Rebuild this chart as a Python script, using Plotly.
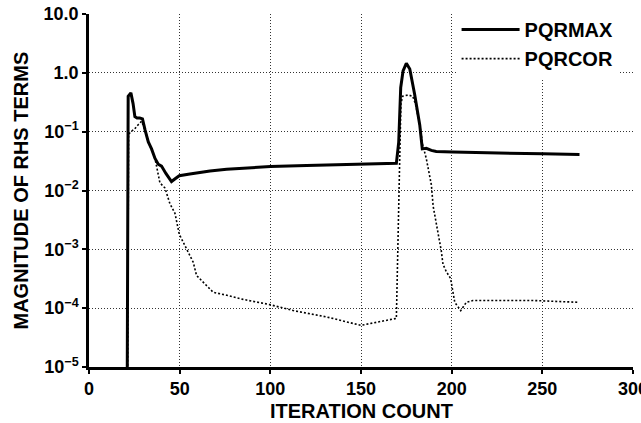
import plotly.graph_objects as go

# PQRMAX (solid)
pqrmax_x = [21.0, 21.3, 21.6, 23.1, 24.3, 25.3, 26.5, 28.0, 29.5, 30.9, 32.7, 34.5, 36.4,
            38.2, 40.0, 42.4, 45.5, 47.5, 49.8, 55.6, 66.7, 75.9, 100.0, 120.0, 149.3,
            169.5, 170.8, 171.9, 173.2, 175.0, 176.9, 179.6, 182.4, 183.8, 186.0, 188.8,
            191.5, 200.7, 250.3, 270.5]
pqrmax_y = [1e-6, 0.30, 0.40, 0.456, 0.30, 0.18, 0.17, 0.17, 0.165, 0.107, 0.067, 0.051, 0.035,
            0.028, 0.026, 0.0195, 0.0142, 0.0158, 0.0178, 0.019, 0.0215, 0.023, 0.0255, 0.0265, 0.028,
            0.029, 0.066, 0.56, 1.08, 1.45, 1.16, 0.43, 0.13, 0.051, 0.052, 0.048,
            0.046, 0.045, 0.042, 0.041]

# PQRCOR (dotted)
pqrcor_x = [21.2, 21.8, 23.0, 25.0, 27.0, 29.0, 30.9, 32.7, 34.5, 36.4, 39.1, 41.9, 44.6,
            47.4, 49.8, 52.9, 57.5, 59.3, 63.0, 68.5, 75.9, 85.0, 99.7, 112.6, 131.0,
            149.9, 169.5, 170.3, 171.0, 172.0, 173.0, 176.0, 178.5, 180.0, 182.4, 184.0,
            186.0, 188.8, 189.8, 191.5, 192.9, 194.3, 195.2, 197.0, 199.4, 200.7, 201.7,
            205.0, 208.1, 211.7, 219.0, 245.0, 269.6]
pqrcor_y = [1e-6, 0.09, 0.10, 0.11, 0.13, 0.15, 0.107, 0.067, 0.05, 0.035, 0.0135, 0.011, 0.006,
            0.0041, 0.0018, 0.00115, 0.0006, 0.00036, 0.00028, 0.000186, 0.000166, 0.000141,
            0.000115, 0.000091, 0.000071, 0.000051, 0.000067, 0.0015, 0.03, 0.3, 0.4, 0.42,
            0.40, 0.30, 0.13, 0.06, 0.035, 0.0125, 0.0054, 0.0028, 0.0014, 0.00093, 0.00056,
            0.00042, 0.00032, 0.000174, 0.000126, 0.000091, 0.000126, 0.000135, 0.000135,
            0.000135, 0.000126]

x_ticks = [0, 50, 100, 150, 200, 250, 300]
x_ticktext = ["0", "50", "100", "150", "200", "250", "300"]
y_ticks = [1e-5, 1e-4, 1e-3, 1e-2, 1e-1, 1, 10]
y_ticktext = ["10<sup>−5</sup>", "10<sup>−4</sup>", "10<sup>−3</sup>", "10<sup>−2</sup>",
              "10<sup>−1</sup>", "1.0", "10.0"]

FONT = "Liberation Sans, Arial, sans-serif"

fig = go.Figure()
fig.add_trace(go.Scatter(x=pqrmax_x, y=pqrmax_y, mode="lines", name="<b>PQRMAX</b>",
                         line=dict(color="black", width=3)))
fig.add_trace(go.Scatter(x=pqrcor_x, y=pqrcor_y, mode="lines", name="<b>PQRCOR</b>",
                         line=dict(color="black", width=1.6, dash="2px,2px")))

axis_common = dict(showline=True, linecolor="black", linewidth=2.5, ticks="outside",
                   ticklen=4, tickwidth=1.5, tickcolor="black", showgrid=True,
                   gridcolor="#333333", gridwidth=1, griddash="1px,2px", zeroline=False,
                   automargin=False, ticklabeloverflow="allow",
                   tickfont=dict(family=FONT, size=18, color="black"))

fig.update_xaxes(range=[0, 300], tickvals=x_ticks,
                 ticktext=["<b>%s</b>" % t for t in x_ticktext], **axis_common)
fig.update_yaxes(type="log", range=[-5, 1], tickvals=y_ticks,
                 ticktext=["<b>%s</b>" % t for t in y_ticktext], **axis_common)

fig.update_layout(
    width=641, height=423,
    margin=dict(l=89, r=8, t=14, b=56, autoexpand=False),
    paper_bgcolor="white", plot_bgcolor="white",
    font=dict(family=FONT, size=18, color="black"),
    showlegend=True,
    legend=dict(x=0.6757, y=1.011, xanchor="left", yanchor="top", bgcolor="white",
                font=dict(family=FONT, size=20, color="black"),
                itemwidth=58, borderwidth=0),
    annotations=[
        dict(text="<b>ITERATION COUNT</b>", xref="paper", yref="paper", x=0.5, y=-0.1246,
             xanchor="center", yanchor="middle", showarrow=False,
             font=dict(family=FONT, size=20, color="black")),
        dict(text="<b>MAGNITUDE OF RHS TERMS</b>", xref="paper", yref="paper", x=-0.1268, y=0.5,
             xanchor="center", yanchor="middle", showarrow=False, textangle=-90,
             font=dict(family=FONT, size=20, color="black")),
    ],
)

fig.write_html("out.html", config={"displayModeBar": False},
               post_script="document.body.style.margin='0';document.body.style.overflow='hidden';")
